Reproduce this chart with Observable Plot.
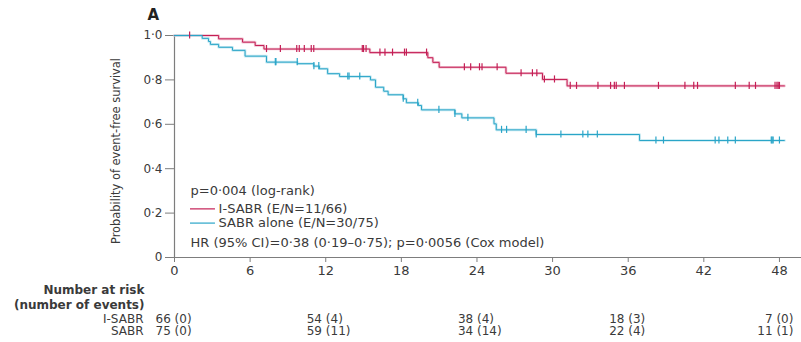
<!DOCTYPE html>
<html><head><meta charset="utf-8">
<script src="https://cdn.jsdelivr.net/npm/d3@7"></script>
<script src="https://cdn.jsdelivr.net/npm/@observablehq/plot@0.6"></script>
<style>body{margin:0;background:#fff} svg{display:block}</style>
</head><body><div id="chart"></div>
<script>
// ---- data ----
const isabrStepMonths = [0, 3.5, 5.4, 6.4, 7.1, 15.5, 20.1, 20.5, 21.0, 26.3, 29.2, 31.15];
const isabrStepSurv   = [1, 0.985, 0.970, 0.955, 0.939, 0.923, 0.900, 0.879, 0.857, 0.830, 0.802, 0.773];
const sabrStepMonths  = [0, 2.2, 2.7, 2.85, 3.5, 4.6, 5.6, 7.3, 9.75, 11.05, 11.5, 12.15, 13.1, 15.55, 15.95, 16.6, 16.95, 18.15, 18.4, 19.35, 19.6, 22.25, 22.8, 25.35, 25.53, 28.7, 36.9];
const sabrStepSurv    = [1, 0.987, 0.973, 0.960, 0.947, 0.933, 0.907, 0.880, 0.873, 0.862, 0.850, 0.828, 0.815, 0.800, 0.767, 0.749, 0.733, 0.715, 0.697, 0.685, 0.665, 0.647, 0.629, 0.602, 0.575, 0.554, 0.527];
const lastFollowUp = 48.4;
const isabrCensorMonths = [1.2, 7.3, 8.4, 9.7, 9.9, 10.3, 10.85, 11.05, 14.9, 15.0, 15.2, 16.3, 16.7, 17.3, 18.25, 18.4, 20.0, 23.0, 23.5, 24.2, 24.4, 25.6, 27.5, 28.4, 28.75, 29.35, 30.15, 31.4, 31.9, 33.6, 34.6, 34.9, 35.05, 35.7, 38.4, 40.5, 41.2, 41.5, 44.5, 45.6, 46.1, 47.65, 47.8, 47.9, 48.0];
const sabrCensorMonths  = [8.0, 8.05, 9.74, 11.06, 11.45, 13.75, 13.85, 14.7, 18.15, 19.3, 20.98, 22.25, 23.28, 25.95, 26.35, 27.9, 28.7, 30.66, 32.4, 32.8, 33.55, 38.2, 38.8, 42.9, 43.2, 43.9, 44.5, 47.35, 47.42, 47.5, 48.0];
const xTicks = [0, 6, 12, 18, 24, 30, 36, 42, 48];
const yTicks = [0, 0.2, 0.4, 0.6, 0.8, 1.0];
const riskMonths   = [0, 12, 24, 36, 48];
const isabrAtRisk  = [66, 54, 38, 18, 7];
const isabrEvents  = [0, 4, 4, 3, 0];
const sabrAtRisk   = [75, 59, 34, 22, 11];
const sabrEvents   = [0, 11, 14, 4, 1];
const groupNames   = ["I-SABR", "SABR"];
const legendLabels = ["I-SABR (E/N=11/66)", "SABR alone (E/N=30/75)"];
const logRankText  = "p=0·004 (log-rank)";
const coxText      = "HR (95% CI)=0·38 (0·19–0·75); p=0·0056 (Cox model)";
const yTitle       = "Probability of event-free survival";
const panelLabel   = "A";
const riskHeader   = ["Number at risk", "(number of events)"];

// ---- build tables ----
const colors = {"I-SABR": "#c41e55", "SABR": "#2aa5c8"};
const halo = {"I-SABR": "#e79ab3", "SABR": "#9fd8e8"};
function curve(t, s, g) {
  const pts = t.map((m, i) => ({month: m, surv: s[i], group: g}));
  pts.push({month: lastFollowUp, surv: s[s.length - 1], group: g});
  return pts;
}
function survAt(t, s, m) { let v = s[0]; for (let i = 0; i < t.length; i++) if (t[i] <= m) v = s[i]; return v; }
const curves = [...curve(isabrStepMonths, isabrStepSurv, "I-SABR"), ...curve(sabrStepMonths, sabrStepSurv, "SABR")];
const censors = [
  ...isabrCensorMonths.map(m => ({month: m, surv: survAt(isabrStepMonths, isabrStepSurv, m), group: "I-SABR"})),
  ...sabrCensorMonths.map(m => ({month: m, surv: survAt(sabrStepMonths, sabrStepSurv, m), group: "SABR"}))
];
const isabrRisk = riskMonths.map((m, i) => ({month: m, label: `${isabrAtRisk[i]} (${isabrEvents[i]})`}));
const sabrRisk  = riskMonths.map((m, i) => ({month: m, label: `${sabrAtRisk[i]} (${sabrEvents[i]})`}));
const fmtY = d => d === 0 ? "0" : d.toFixed(1).replace(".", "·");
const txt = "#3a3a3a", axisCol = "#7d7d7d";
const font = "DejaVu Sans";
const legendY = [0.219, 0.155];
const rowDy = [61.3, 73.7];
const tableFont = 12;

function riskRow(rows, dy) {
  return [
    Plot.text(rows.filter(d => d.month < 48), {x: "month", frameAnchor: "bottom", lineAnchor: "middle", dx: -19, dy, text: "label", textAnchor: "start", fontSize: tableFont, fill: txt}),
    Plot.text(rows.filter(d => d.month >= 48), {x: "month", frameAnchor: "bottom", lineAnchor: "middle", dx: 14, dy, text: "label", textAnchor: "end", fontSize: tableFont, fill: txt})
  ];
}
function leftLabel(s, dy, bold, dx) {
  return Plot.text([s], {frameAnchor: "bottom-left", lineAnchor: "middle", dx, dy, text: d => d, textAnchor: "end", fontWeight: bold ? "bold" : "normal", fontSize: tableFont, fill: txt});
}

const chart = Plot.plot({
  width: 801, height: 342,
  marginLeft: 174, marginRight: 0, marginTop: 35, marginBottom: 85,
  style: {fontFamily: font, color: txt, background: "#fff", overflow: "visible"},
  x: {domain: [0, 49.75]},
  y: {domain: [0, 1]},
  marks: [
    Plot.ruleY([0], {stroke: axisCol, strokeWidth: 1.2}),
    Plot.ruleX([0], {y1: 0, y2: 1, stroke: axisCol, strokeWidth: 1.2}),
    Plot.axisX({ticks: xTicks, tickSize: 5, tickPadding: 3, fontSize: 13, label: null, stroke: axisCol, color: txt}),
    Plot.axisY({ticks: yTicks, tickSize: 9, tickPadding: 3, fontSize: 12, tickFormat: fmtY, label: null, stroke: axisCol, color: txt}),
    Plot.line(curves, {x: "month", y: "surv", z: "group", curve: "step-after", stroke: d => halo[d.group], strokeWidth: 2.6, strokeOpacity: 0.6}),
    Plot.line(curves, {x: "month", y: "surv", z: "group", curve: "step-after", stroke: d => colors[d.group], strokeWidth: 1}),
    Plot.ruleX(censors, {x: "month", y1: d => d.surv - 0.016, y2: d => d.surv + 0.016, stroke: d => colors[d.group], strokeWidth: 1.2}),
    // legend block (annotation placed in data space)
    Plot.text([logRankText], {x: 1.27, y: 0.30, text: d => d, textAnchor: "start", fontSize: 13, fill: txt}),
    Plot.ruleY(groupNames.map((g, i) => ({g, y: legendY[i]})), {x1: 1.27, x2: 3.25, y: "y", stroke: d => colors[d.g], strokeWidth: 1.2}),
    Plot.text(groupNames.map((g, i) => ({t: legendLabels[i], y: legendY[i]})), {x: 3.5, y: "y", text: "t", textAnchor: "start", fontSize: 13, fill: txt}),
    Plot.text([coxText], {x: 1.27, y: 0.066, text: d => d, textAnchor: "start", fontSize: 13, fill: txt}),
    // panel label and y title
    Plot.text([panelLabel], {frameAnchor: "top-left", lineAnchor: "middle", dx: -27, dy: -20, text: d => d, fontSize: 15, fontWeight: "bold", fill: "#222"}),
    Plot.text([yTitle], {frameAnchor: "left", dx: -58, dy: 4.5, rotate: -90, textAnchor: "middle", text: d => d, fontSize: 12, fill: txt, fontFamily: "DejaVu Sans Condensed"}),
    // risk table
    leftLabel(riskHeader[0], 32.3, true, -30),
    leftLabel(riskHeader[1], 47.3, true, -30),
    leftLabel(groupNames[0], rowDy[0], false, -31),
    leftLabel(groupNames[1], rowDy[1], false, -31),
    ...riskRow(isabrRisk, rowDy[0]),
    ...riskRow(sabrRisk, rowDy[1])
  ]
});
document.getElementById("chart").appendChild(chart);
chart.querySelectorAll("text").forEach(t => {
  if (t.textContent === yTitle) { t.setAttribute("textLength", 186); t.setAttribute("lengthAdjust", "spacingAndGlyphs"); }
});
</script>
</body></html>
